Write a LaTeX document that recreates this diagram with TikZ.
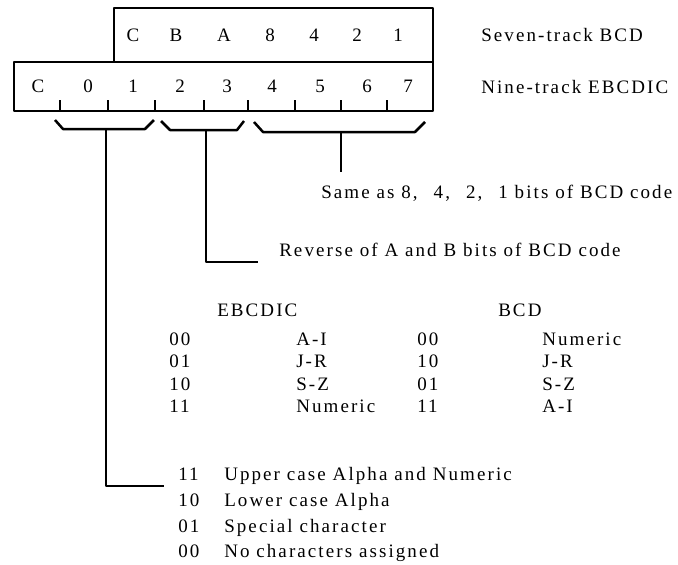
\documentclass[tikz,border=0pt]{standalone}
\usepackage{fontspec}
\setmainfont{Liberation Serif}[LetterSpace=11]
\begin{document}
\begin{tikzpicture}[x=1pt,y=-1pt, line width=2.5pt, line join=round,
  txt/.style={anchor=base west, inner sep=0pt, font=\fontsize{19}{22}\selectfont},
  cell/.style={anchor=base, inner sep=0pt, font=\fontsize{19}{22}\selectfont}]
\useasboundingbox (0,0) rectangle (678,565);
% boxes
\draw (114,8) rectangle (433,62);
\draw (14,62) rectangle (433,111);
% top row (BCD)
\foreach \t/\x [count=\i] in {C/133,B/176,A/224,8/270,4/314,2/357,1/398}
  \node[cell] (t\i) at (\x,41.5) {\t};
% bottom row (EBCDIC)
\foreach \t/\x [count=\i] in {C/38,0/88,1/133,2/180,3/227,4/272,5/320,6/367,7/408}
  \node[cell] (n\i) at (\x,92.5) {\t};
% ticks
\foreach \x in {60,108,155,204,248,295,341,387}
  \draw (\x,111) -- (\x,100);
% brackets
\draw (55,120) -- (63,129) -- (145,129) -- (154,120);
\draw (161,121) -- (170,130) -- (237,130) -- (244,121);
\draw (254,122) -- (263,132) -- (415,132) -- (425,122);
% labels
\node[txt] (seven) at (480,41.5) {Seven-track BCD};
\node[txt] (nine) at (480,93.5) {Nine-track EBCDIC};
\node[txt] (same) at (320,198) {Same as 8,\hspace{16pt}4,\hspace{16pt}2,\hspace{16pt}1 bits of BCD code};
\node[txt] (rev) at (278,256) {Reverse of A and B bits of BCD code};
% table
\node[txt] (hE) at (216,316) {EBCDIC};
\node[txt] (hB) at (497,316) {BCD};
\foreach \a/\b/\c/\d/\y [count=\i] in {00/A-I/00/Numeric/345, 01/J-R/10/J-R/367, 10/S-Z/01/S-Z/390, 11/Numeric/11/A-I/412}{
  \node[txt] (ea\i) at (168,\y) {\a};
  \node[txt] (eb\i) at (295,\y) {\b};
  \node[txt] (ba\i) at (416,\y) {\c};
  \node[txt] (bb\i) at (541,\y) {\d};
}
% zone list
\foreach \a/\b/\y [count=\i] in {11/Upper case Alpha and Numeric/480, 10/Lower case Alpha/506, 01/Special character/532, 00/No characters assigned/557}{
  \node[txt] (za\i) at (177,\y) {\a};
  \node[txt] (zb\i) at (223,\y) {\b};
}
% stems
\coordinate (s1) at (106,129);
\coordinate (s2) at (206,130);
\coordinate (s3) at (341,132);
\coordinate (e3) at (341,172);
\draw (s3) -- (e3);
\draw (s2) |- ([xshift=-20pt,yshift=-6pt]rev.base west);
\draw (s1) |- ([xshift=-13pt,yshift=-6pt]za1.base west);
\end{tikzpicture}
\end{document}
